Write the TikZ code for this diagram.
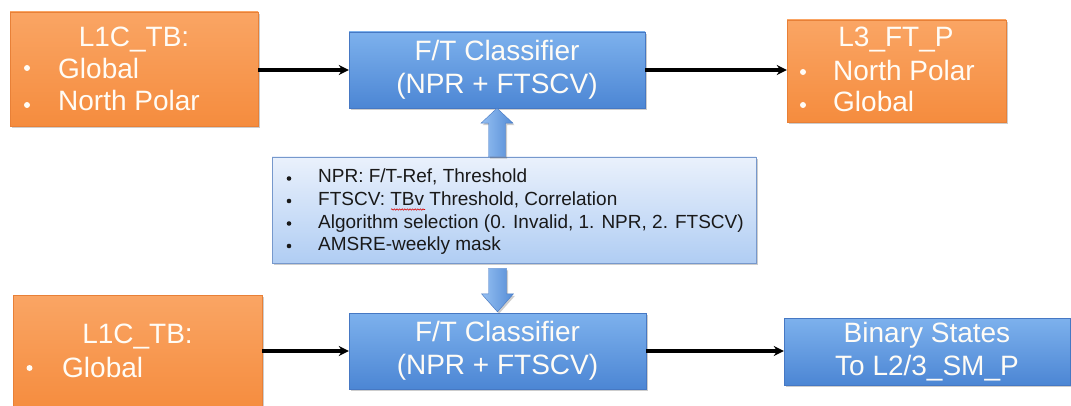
\documentclass[tikz,border=0pt]{standalone}
\usepackage{fontspec}
\setmainfont{Liberation Sans}
\usetikzlibrary{shadows,arrows.meta,calc,decorations.pathmorphing}

\definecolor{orangeTop}{RGB}{250,165,100}
\definecolor{orangeBot}{RGB}{245,140,62}
\definecolor{orangeEdge}{RGB}{232,128,55}
\definecolor{blueTop}{RGB}{125,177,237}
\definecolor{blueBot}{RGB}{76,134,212}
\definecolor{blueEdge}{RGB}{70,120,195}
\definecolor{paleTop}{RGB}{234,241,252}
\definecolor{paleBot}{RGB}{176,205,243}
\definecolor{paleEdge}{RGB}{118,152,204}
\definecolor{boxText}{RGB}{255,252,246}
\definecolor{listText}{RGB}{25,25,25}
\definecolor{fatLeft}{RGB}{150,192,242}
\definecolor{fatRight}{RGB}{84,140,214}

\begin{document}
\begin{tikzpicture}[x=1pt,y=-1pt,
  softshadow/.style={drop shadow={shadow xshift=1.5pt,shadow yshift=-2pt,opacity=0.28,fill=black!70}},
  orangebox/.style={rectangle,inner sep=0pt,top color=orangeTop,bottom color=orangeBot,
    draw=orangeEdge,line width=0.4pt,softshadow},
  bluebox/.style={rectangle,inner sep=0pt,top color=blueTop,bottom color=blueBot,
    draw=blueEdge,line width=0.4pt,softshadow,text=boxText,align=center,
    font=\fontsize{28}{33}\selectfont},
  palebox/.style={rectangle,inner sep=0pt,top color=paleTop,bottom color=paleBot,
    draw=paleEdge,line width=0.5pt,softshadow},
  boxtxt/.style={text=boxText,font=\fontsize{28}{32}\selectfont,inner sep=0pt},
  bigdot/.style={circle,fill=boxText,inner sep=0pt,minimum size=6pt},
  smalldot/.style={circle,fill=listText,inner sep=0pt,minimum size=4.6pt},
  listtxt/.style={text=listText,font=\fontsize{19}{23}\selectfont,inner sep=0pt,anchor=base west},
  flow/.style={line width=3.2pt,-{Stealth[length=10pt,width=10pt]}},
  fatarrow/.style={left color=fatLeft,right color=fatRight,draw=blueEdge,line width=0.4pt,softshadow}
]
\useasboundingbox (0,0) rectangle (1071,406);

% ---- boxes ----
\node[orangebox,minimum width=248,minimum height=114] (src1) at (134,69) {};
\node[bluebox,minimum width=296,minimum height=76] (cls1) at (497,70) {F/T Classifier\\(NPR + FTSCV)};
\node[orangebox,minimum width=219,minimum height=102] (out1) at (896.5,71) {};

\node[palebox,minimum width=484,minimum height=106] (params) at (514,210) {};

\node[orangebox,minimum width=249,minimum height=116] (src2) at (137.5,353) {};
\node[bluebox,minimum width=297,minimum height=76] (cls2) at (497.5,351) {F/T Classifier\\(NPR + FTSCV)};
\node[bluebox,minimum width=286,minimum height=67] (out2) at (927,351.5) {Binary States\\To L2/3\_SM\_P};

% ---- texts of the orange boxes ----
\node[boxtxt,anchor=base] (src1t) at (134,47) {L1C\_TB:};
\node[bigdot] (src1b1) at (27,68) {};
\node[boxtxt,anchor=base west] (src1l1) at (58,79) {Global};
\node[bigdot] (src1b2) at (27,105) {};
\node[boxtxt,anchor=base west] (src1l2) at (58,111) {North Polar};

\node[boxtxt,anchor=base] (out1t) at (896,47) {L3\_FT\_P};
\node[bigdot] (out1b1) at (803,72) {};
\node[boxtxt,anchor=base west] (out1l1) at (833,81) {North Polar};
\node[bigdot] (out1b2) at (803,105) {};
\node[boxtxt,anchor=base west] (out1l2) at (833,112) {Global};

\node[boxtxt,anchor=base] (src2t) at (137.5,343) {L1C\_TB:};
\node[bigdot] (src2b1) at (29.5,368) {};
\node[boxtxt,anchor=base west] (src2l1) at (62,377) {Global};

% ---- parameter list ----
\node[smalldot] (pb1) at (289,178.5) {};
\node[listtxt] (p1) at (318,183) {NPR: F/T-Ref, Threshold};
\node[smalldot] (pb2) at (289,201) {};
\node[listtxt] (p2) at (318,206) {FTSCV: TBv Threshold, Correlation};
\node[smalldot] (pb3) at (289,223.5) {};
\node[listtxt] (p3) at (318,228.5) {Algorithm selection (0. Invalid, 1. NPR, 2. FTSCV)};
\node[smalldot] (pb4) at (289,246) {};
\node[listtxt] (p4) at (318,251) {AMSRE-weekly mask};
% spell-check squiggle under "TBv"
\draw[red!85!black,line width=0.55pt,decorate,decoration={snake,amplitude=0.7pt,segment length=2.6pt}]
  ($(p2.base west)+(73,3.5)$) -- ($(p2.base west)+(107,3.5)$);

% ---- connectors ----
\draw[flow] (src1.east |- cls1.west) -- (cls1.west);
\draw[flow] (cls1.east) -- (cls1.east -| out1.west);
\draw[flow] (src2.east |- cls2.west) -- (cls2.west);
\draw[flow] (cls2.east) -- (cls2.east -| out2.west);

% block arrow: parameters up to the upper classifier
\path[fatarrow] let \p1=(cls1.south), \p2=(params.north) in
  (\x1-8.5pt,\y2) -- (\x1-8.5pt,\y1-15pt) -- (\x1-16pt,\y1-15pt) -- (\x1,\y1)
  -- (\x1+16pt,\y1-15pt) -- (\x1+8.5pt,\y1-15pt) -- (\x1+8.5pt,\y2) -- cycle;
% block arrow: parameters down to the lower classifier
\path[fatarrow] let \p1=(params.south), \p2=(cls2.north) in
  (\x2-9pt,\y1-5pt) -- (\x2-9pt,\y2+19pt) -- (\x2-16pt,\y2+19pt) -- (\x2,\y2+1pt)
  -- (\x2+16pt,\y2+19pt) -- (\x2+9pt,\y2+19pt) -- (\x2+9pt,\y1-5pt) -- cycle;
\end{tikzpicture}
\end{document}
